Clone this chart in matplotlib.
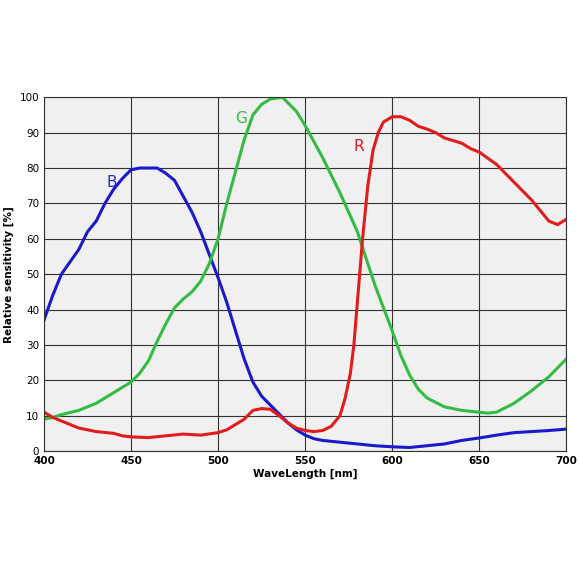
import matplotlib.pyplot as plt

b_wl = [400, 405, 410, 415, 420, 425, 430, 435, 440, 445, 450, 455, 460, 465, 470, 475, 480, 485, 490, 495,
        500, 505, 510, 515, 520, 525, 530, 535, 540, 545, 550, 555, 560, 570, 580, 590, 600, 610, 620, 630,
        640, 650, 660, 670, 680, 690, 700]
b_val = [37, 44, 50, 53.5, 57, 62, 65, 70, 74, 77, 79.5, 80, 80, 80, 78.5, 76.5, 72, 67.5, 62, 55.5,
         49, 42, 34, 26, 19.5, 15.5, 13, 10.5, 8, 6, 4.5, 3.5, 3, 2.5, 2, 1.5, 1.2, 1.0, 1.5, 2,
         3, 3.7, 4.5, 5.2, 5.5, 5.8, 6.2]

g_wl = [400, 405, 410, 420, 430, 440, 450, 455, 460, 465, 470, 475, 480, 485, 490, 495, 500, 505, 510, 515,
        520, 525, 530, 537, 545, 550, 560, 570, 580, 590, 600, 605, 610, 615, 620, 630, 640, 655, 660, 670,
        680, 690, 700]
g_val = [9, 9.5, 10.3, 11.5, 13.5, 16.5, 19.5, 22, 25.5, 31, 36, 40.5, 43, 45, 48, 53, 60, 70, 79, 88,
         95, 98, 99.5, 100, 96, 92, 83, 73, 62, 47, 34, 27, 21.5, 17.5, 15, 12.5, 11.5, 10.7, 11, 13.5,
         17, 21, 26]

r_wl = [400, 405, 410, 420, 430, 440, 445, 450, 460, 470, 480, 490, 500, 505, 510, 515, 520, 525, 530, 535,
        540, 545, 550, 555, 560, 565, 570, 573, 576, 578, 580, 583, 586, 589, 592, 595, 600, 605, 610, 615,
        620, 625, 630, 640, 645, 650, 660, 670, 680, 685, 690, 695, 700]
r_val = [11, 9.5, 8.5, 6.5, 5.5, 5, 4.3, 4, 3.8, 4.3, 4.8, 4.5, 5.2, 6, 7.5, 9, 11.5, 12, 11.8, 10,
         8, 6.5, 5.8, 5.5, 5.8, 7, 10, 15, 22, 30, 42, 60, 75, 85, 90, 93, 94.5, 94.5, 93.5, 91.8,
         91, 90, 88.5, 87, 85.5, 84.5, 81, 76, 71, 68, 65, 64, 65.5]

fig = plt.figure(figsize=(5.79, 5.79), dpi=100)
ax = fig.add_axes([0.076, 0.221, 0.902, 0.611])
ax.set_facecolor('#f0f0f0')
ax.plot(b_wl, b_val, color='#1a1acc', lw=2.2)
ax.plot(g_wl, g_val, color='#33bb44', lw=2.2)
ax.plot(r_wl, r_val, color='#e01c1c', lw=2.2)
ax.text(439, 76, 'B', color='#2a2acc', fontsize=11, ha='center', va='center')
ax.text(513, 94, 'G', color='#33bb44', fontsize=11, ha='center', va='center')
ax.text(581, 86, 'R', color='#e01c1c', fontsize=11, ha='center', va='center')

ax.set_xlim(400, 700)
ax.set_ylim(0, 100)
ax.set_xticks(range(400, 701, 50))
ax.set_yticks(range(0, 101, 10))
ax.grid(True, color='#333333', lw=0.8)
ax.tick_params(length=0, labelsize=7.5)
for t in ax.get_xticklabels():
    t.set_fontweight('bold')
ax.set_xlabel('WaveLength [nm]', fontsize=7.5, fontweight='bold', labelpad=2)
ax.set_ylabel('Relative sensitivity [%]', fontsize=7.5, fontweight='bold')
for s in ax.spines.values():
    s.set_color('#333333')
fig.savefig('out.png')
